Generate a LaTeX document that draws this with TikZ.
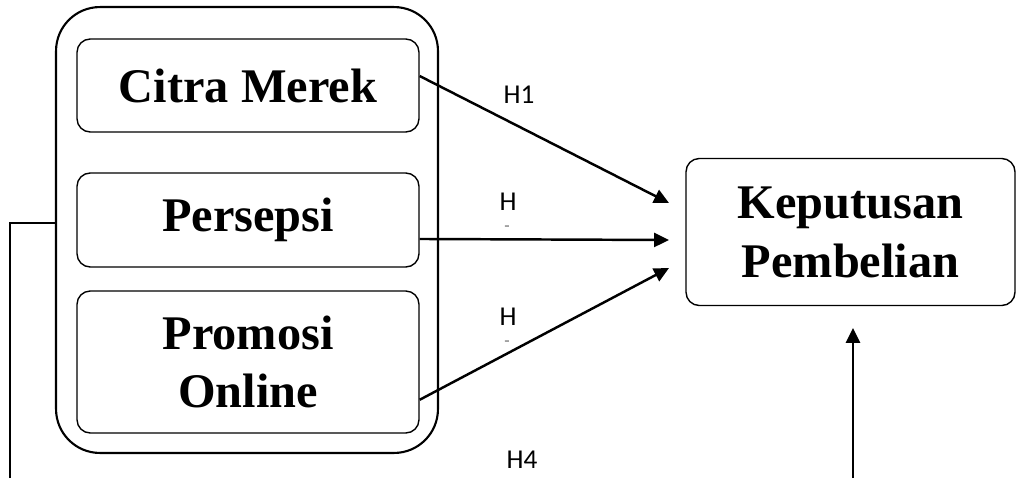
\documentclass[tikz,border=0pt]{standalone}
\usepackage{fontspec}
\setmainfont{Liberation Serif}
\newfontfamily\labelfont{Carlito}
\usetikzlibrary{arrows.meta}

\begin{document}
\begin{tikzpicture}[x=0.02cm, y=0.02cm,
        varbox/.style={rectangle, rounded corners=7.5pt, draw, line width=0.8pt, inner sep=0pt,
            align=center, font=\fontsize{27.5}{33.5}\selectfont\bfseries},
        grpbox/.style={rectangle, rounded corners=25pt, draw, line width=1.2pt, inner sep=0pt},
        hlabel/.style={inner sep=0pt, font=\labelfont\fontsize{15.5}{18}\selectfont},
        tick/.style={inner sep=0pt, text=black!55, font=\labelfont\fontsize{10}{12}\selectfont},
        arr/.style={line width=1.4pt, -{Triangle[length=8.5pt,width=8pt]}}]
        \useasboundingbox (0,0) rectangle (1017,478);

        % Define node styles
        \node [grpbox, minimum width=7.64cm, minimum height=8.92cm] (grp) at (247,248) {};
        \node [varbox, minimum width=6.84cm, minimum height=1.86cm] (cm) at (248,392.5) {Citra Merek};
        \node [varbox, minimum width=6.84cm, minimum height=1.88cm] (pp) at (248,258) {Persepsi};
        \node [varbox, minimum width=6.84cm, minimum height=2.84cm] (po) at (248,116) {Promosi\\Online};
        \node [varbox, minimum width=6.58cm, minimum height=2.94cm] (kp) at (850.5,246) {Keputusan\\Pembelian};

        % Arrow tips and loose ends
        \coordinate (t1) at (669,275);
        \coordinate (t2) at (669,238);
        \coordinate (t3) at (669,210);
        \coordinate (t4) at (853,150);
        \coordinate (b4) at (853,0);
        \coordinate (b0) at (10,0);

        % Hypothesis labels
        \node [hlabel] (h1) at (519,383) {H1};
        \node [hlabel] (h2) at (508,276) {H};
        \node [tick] (h2t) at (507,249) {-};
        \node [hlabel] (h3) at (508,161) {H};
        \node [tick] (h3t) at (507,134) {-};
        \node [hlabel] (h4) at (522,18) {H4};

        % Draw edges with arrowheads
        \draw [arr] ([yshift=5.4pt]cm.east) -- (t1);
        \draw [arr] ([yshift=-10.8pt]pp.east) -- (t2);
        \draw [arr] ([yshift=-21.5pt]po.east) -- (t3);
        \draw [arr] (b4) -- (t4);
        \draw [line width=0.6pt] (b0) |- ([yshift=4pt]grp.west);
    \end{tikzpicture}
\end{document}
